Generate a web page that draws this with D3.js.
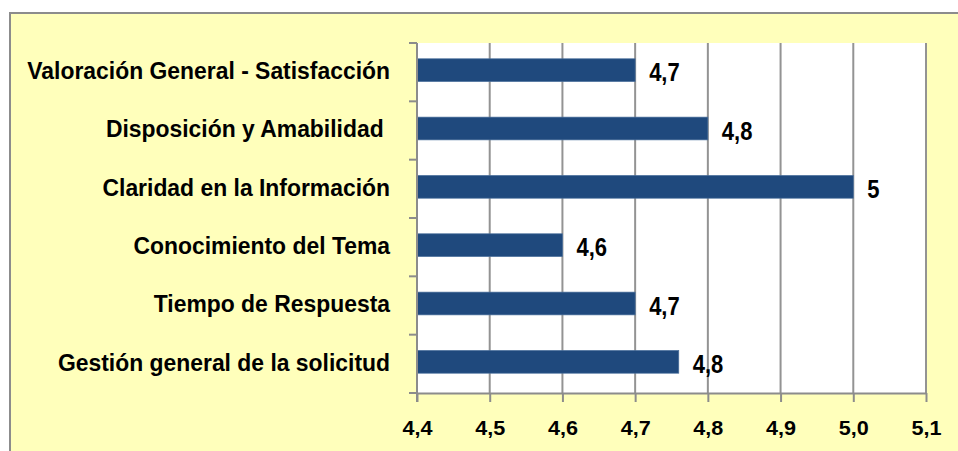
<!DOCTYPE html>
<html>
<head>
<meta charset="utf-8">
<script src="https://cdn.jsdelivr.net/npm/d3@7"></script>
<style>
  body { margin: 0; background: #fff; }
  text { font-family: "Liberation Sans", Arial, sans-serif; font-weight: bold; fill: #000; }
</style>
</head>
<body>
<svg id="chart" width="958" height="451"></svg>
<script>
// chart data
const categories = [
  "Valoración General - Satisfacción",
  "Disposición y Amabilidad ",
  "Claridad en la Información",
  "Conocimiento del Tema",
  "Tiempo de Respuesta",
  "Gestión general de la solicitud"
];
const values = [4.7, 4.8, 5.0, 4.6, 4.7, 4.76];
const valueLabels = ["4,7", "4,8", "5", "4,6", "4,7", "4,8"];
const xTicks = [4.4, 4.5, 4.6, 4.7, 4.8, 4.9, 5.0, 5.1];

const svg = d3.select("#chart");
const margin = {top: 43, right: 32, bottom: 58, left: 417};
const width = 958, height = 451;

// outer frame
svg.append("rect")
  .attr("x", 10).attr("y", 13)
  .attr("width", 960).attr("height", 460)
  .attr("fill", "#ffffbb")
  .attr("stroke", "#8c8c8c")
  .attr("stroke-width", 2);

const x = d3.scaleLinear().domain([4.4, 5.1]).range([margin.left, width - margin.right]);
const y = d3.scaleBand().domain(categories).range([margin.top, height - margin.bottom]).paddingInner(0.61).paddingOuter(0.305);

// plot area
svg.append("rect")
  .attr("x", x(4.4)).attr("y", margin.top)
  .attr("width", x(5.1) - x(4.4)).attr("height", height - margin.bottom - margin.top)
  .attr("fill", "#fff");

// gridlines
svg.append("g")
  .selectAll("line")
  .data(xTicks.slice(1))
  .join("line")
  .attr("x1", d => x(d)).attr("x2", d => x(d))
  .attr("y1", margin.top).attr("y2", height - margin.bottom)
  .attr("stroke", "#939393")
  .attr("stroke-width", 2);

// bars
const barY = (i) => y(categories[i]) - 2;
svg.append("g")
  .selectAll("rect")
  .data(values)
  .join("rect")
  .attr("x", x(4.4))
  .attr("y", (d, i) => barY(i))
  .attr("width", d => x(d) - x(4.4))
  .attr("height", y.bandwidth())
  .attr("fill", "#1f497d")
  .attr("stroke", "#4a6f9c")
  .attr("stroke-width", 0.7);

// value labels (condensed)
svg.append("g")
  .selectAll("text")
  .data(values)
  .join("text")
  .attr("transform", (d, i) => `translate(${x(d) + 14},${barY(i) + y.bandwidth() / 2 + 2}) scale(0.88,1)`)
  .attr("dy", "0.36em")
  .style("font-size", "25px")
  .text((d, i) => valueLabels[i]);

// x axis
const xAxis = d3.axisBottom(x)
  .tickValues(xTicks)
  .tickFormat(d => d3.format(".1f")(d).replace(".", ","))
  .tickSize(9)
  .tickSizeOuter(0);
const gx = svg.append("g")
  .attr("transform", `translate(0,${height - margin.bottom})`)
  .call(xAxis);
gx.select(".domain").attr("stroke", "#8c8c8c").attr("stroke-width", 2);
gx.selectAll(".tick line").attr("stroke", "#8c8c8c").attr("stroke-width", 2);
gx.selectAll(".tick text")
  .attr("dy", 0).attr("y", 0)
  .attr("transform", "translate(0,42) scale(1.08,1)")
  .style("font-size", "20px").attr("fill", "#000");

// y axis
const yTicks = d3.range(categories.length + 1).map(i => margin.top + i * (height - margin.bottom - margin.top) / categories.length);
const gy = svg.append("g");
gy.append("line")
  .attr("x1", x(4.4)).attr("x2", x(4.4))
  .attr("y1", margin.top).attr("y2", height - margin.bottom + 9)
  .attr("stroke", "#8c8c8c").attr("stroke-width", 2);
gy.selectAll(".ytick")
  .data(yTicks)
  .join("line")
  .attr("class", "ytick")
  .attr("x1", x(4.4) - 8).attr("x2", x(4.4))
  .attr("y1", d => d).attr("y2", d => d)
  .attr("stroke", "#8c8c8c").attr("stroke-width", 2);

gy.selectAll("text")
  .data(categories)
  .join("text")
  .attr("transform", (d, i) => `translate(390,${barY(i) + y.bandwidth() / 2}) scale(0.935,1)`)
  .attr("dy", "0.36em")
  .attr("text-anchor", "end")
  .style("font-size", "24.5px")
  .style("white-space", "pre")
  .text(d => d);
</script>
</body>
</html>
